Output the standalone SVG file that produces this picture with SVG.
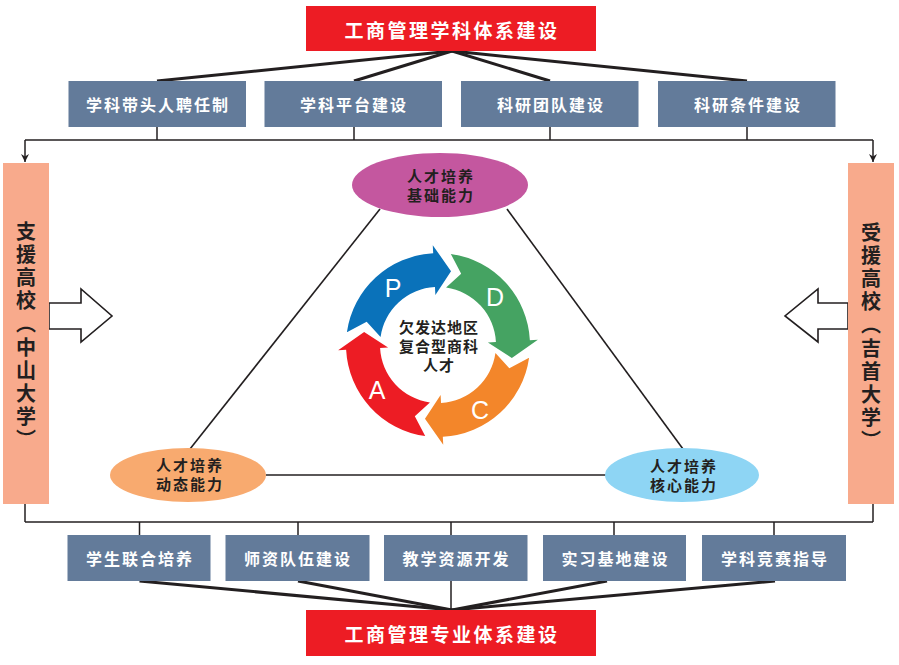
<svg xmlns="http://www.w3.org/2000/svg" width="899" height="665" viewBox="0 0 899 665">
<style>
.cn{font-family:"Noto Sans CJK SC","Noto Sans",sans-serif;font-weight:bold}
.wt{fill:#ffffff;font-size:16px;letter-spacing:2px}
.big{fill:#ffffff;font-size:19px;letter-spacing:2.5px}
.dk{fill:#231f20}
.el{font-size:15px;letter-spacing:2px}
.side{font-size:20px;letter-spacing:3.2px;writing-mode:vertical-rl}
.red{fill:#ED1C24}
.box{fill:#637B9A}
.sbox{fill:#F8AA8C}
.thick{stroke:#231f20;stroke-width:3;fill:none}
.thin{stroke:#231f20;stroke-width:1.5;fill:none}
.tri{stroke:#231f20;stroke-width:1.6;fill:none}
.hollow{fill:#ffffff;stroke:#231f20;stroke-width:1.6}
.let{font-family:"Liberation Sans",Arial,sans-serif;font-size:25px;fill:#ffffff}
</style>
<defs>
<marker id="ah" viewBox="0 0 10 10" refX="10" refY="5" markerWidth="8" markerHeight="8" markerUnits="userSpaceOnUse" orient="auto">
<path d="M0,0 L10,5 L0,10 L3,5 Z" fill="#231f20"/>
</marker>
<path id="arr" d="M0,-92 A92,92 0 0 1 90.31,-17.55 L98.16,-19.08 L74.95,2.62 L49.08,-9.54 L56.93,-11.07 A58,58 0 0 0 0,-58 L13.02,-73.86 Z"/>
</defs>

<g id="connectors">
<line class="thick" x1="452" y1="51" x2="157" y2="81"/>
<line class="thick" x1="452" y1="51" x2="354" y2="81"/>
<line class="thick" x1="452" y1="51" x2="550" y2="81"/>
<line class="thick" x1="452" y1="51" x2="747" y2="81"/>
<line class="thin" x1="157" y1="127" x2="157" y2="140"/>
<line class="thin" x1="354" y1="127" x2="354" y2="140"/>
<line class="thin" x1="550" y1="127" x2="550" y2="140"/>
<line class="thin" x1="747" y1="127" x2="747" y2="140"/>
<line class="thin" x1="25" y1="140" x2="873" y2="140"/>
<line class="thin" x1="25" y1="140" x2="25" y2="162" marker-end="url(#ah)"/>
<line class="thin" x1="873" y1="140" x2="873" y2="162" marker-end="url(#ah)"/>
<line class="thin" x1="25" y1="504" x2="25" y2="522"/>
<line class="thin" x1="873" y1="504" x2="873" y2="522"/>
<line class="thin" x1="25" y1="522" x2="873" y2="522"/>
<line class="thin" x1="139.5" y1="522" x2="139.5" y2="535"/>
<line class="thin" x1="298" y1="522" x2="298" y2="535"/>
<line class="thin" x1="451" y1="522" x2="451" y2="535"/>
<line class="thin" x1="614" y1="522" x2="614" y2="535"/>
<line class="thin" x1="774" y1="522" x2="774" y2="535"/>
<line class="thick" x1="139.5" y1="581" x2="452" y2="610"/>
<line class="thick" x1="298" y1="581" x2="452" y2="610"/>
<line class="thin" x1="451" y1="581" x2="451" y2="610"/>
<line class="thick" x1="607" y1="581" x2="452" y2="610"/>
<line class="thick" x1="775" y1="581" x2="452" y2="610"/>
<line class="tri" x1="380" y1="209" x2="190" y2="449"/>
<line class="tri" x1="507" y1="209" x2="683" y2="449"/>
<line class="tri" x1="266" y1="475" x2="606" y2="475"/>
<polygon class="hollow" points="49,303 81,303 81,289 112,316 81,342 81,329 49,329"/>
<polygon class="hollow" points="848,303 818,303 818,289 785,316 818,342 818,329 848,329"/>
</g>

<g id="top-title">
<rect class="red" x="306" y="6" width="290" height="45"/>
<text class="cn big" x="452" y="29" text-anchor="middle" dominant-baseline="central">工商管理学科体系建设</text>
</g>
<g id="t1"><rect class="box" x="68.5" y="81" width="177.5" height="46"/><text class="cn wt" x="158" y="104" text-anchor="middle" dominant-baseline="central">学科带头人聘任制</text></g>
<g id="t2"><rect class="box" x="264.5" y="81" width="177.5" height="46"/><text class="cn wt" x="354" y="104" text-anchor="middle" dominant-baseline="central">学科平台建设</text></g>
<g id="t3"><rect class="box" x="461" y="81" width="177.5" height="46"/><text class="cn wt" x="551" y="104" text-anchor="middle" dominant-baseline="central">科研团队建设</text></g>
<g id="t4"><rect class="box" x="658" y="81" width="177.5" height="46"/><text class="cn wt" x="748" y="104" text-anchor="middle" dominant-baseline="central">科研条件建设</text></g>

<g id="left-school">
<rect class="sbox" x="3" y="163" width="46" height="341"/>
<text class="cn dk side" x="26" y="221">支援高校（中山大学）</text>
</g>
<g id="right-school">
<rect class="sbox" x="848" y="163" width="46" height="341"/>
<text class="cn dk side" x="871" y="222">受援高校（吉首大学）</text>
</g>

<g id="e-top">
<ellipse cx="440" cy="185" rx="88" ry="32" fill="#C4579F"/>
<text class="cn dk el" text-anchor="middle"><tspan x="441" y="181.5">人才培养</tspan><tspan x="441" y="200.5">基础能力</tspan></text>
</g>
<g id="e-left">
<ellipse cx="188" cy="475" rx="78" ry="27" fill="#F8AA6F"/>
<text class="cn dk el" text-anchor="middle"><tspan x="190" y="471">人才培养</tspan><tspan x="190" y="490">动态能力</tspan></text>
</g>
<g id="e-right">
<ellipse cx="682" cy="475" rx="77" ry="27" fill="#8ED5F4"/>
<text class="cn dk el" text-anchor="middle"><tspan x="684" y="472">人才培养</tspan><tspan x="684" y="491">核心能力</tspan></text>
</g>

<g id="pdca">
<use href="#arr" fill="#0A72BA" transform="translate(438,345) rotate(-82)"/>
<use href="#arr" fill="#45A362" transform="translate(438,345) rotate(8)"/>
<use href="#arr" fill="#F3862A" transform="translate(438,345) rotate(98)"/>
<use href="#arr" fill="#ED1C24" transform="translate(438,345) rotate(188)"/>
<text class="let" x="393" y="288" text-anchor="middle" dominant-baseline="central">P</text>
<text class="let" x="495" y="297" text-anchor="middle" dominant-baseline="central">D</text>
<text class="let" x="480" y="410" text-anchor="middle" dominant-baseline="central">C</text>
<text class="let" x="377" y="390" text-anchor="middle" dominant-baseline="central">A</text>
<text class="cn dk" font-size="15" letter-spacing="1" text-anchor="middle"><tspan x="439" y="332.5">欠发达地区</tspan><tspan x="439" y="351.5">复合型商科</tspan><tspan x="439" y="370.5">人才</tspan></text>
</g>

<g id="b1"><rect class="box" x="67.5" y="535" width="143" height="46"/><text class="cn wt" x="140" y="558" text-anchor="middle" dominant-baseline="central">学生联合培养</text></g>
<g id="b2"><rect class="box" x="225.5" y="535" width="144" height="46"/><text class="cn wt" x="298" y="558" text-anchor="middle" dominant-baseline="central">师资队伍建设</text></g>
<g id="b3"><rect class="box" x="384" y="535" width="143.5" height="46"/><text class="cn wt" x="456.5" y="558" text-anchor="middle" dominant-baseline="central">教学资源开发</text></g>
<g id="b4"><rect class="box" x="543" y="535" width="143" height="46"/><text class="cn wt" x="615.5" y="558" text-anchor="middle" dominant-baseline="central">实习基地建设</text></g>
<g id="b5"><rect class="box" x="702" y="535" width="144" height="46"/><text class="cn wt" x="775" y="558" text-anchor="middle" dominant-baseline="central">学科竞赛指导</text></g>

<g id="bottom-title">
<rect class="red" x="306" y="610" width="290" height="46"/>
<text class="cn big" x="452" y="633" text-anchor="middle" dominant-baseline="central">工商管理专业体系建设</text>
</g>
</svg>
